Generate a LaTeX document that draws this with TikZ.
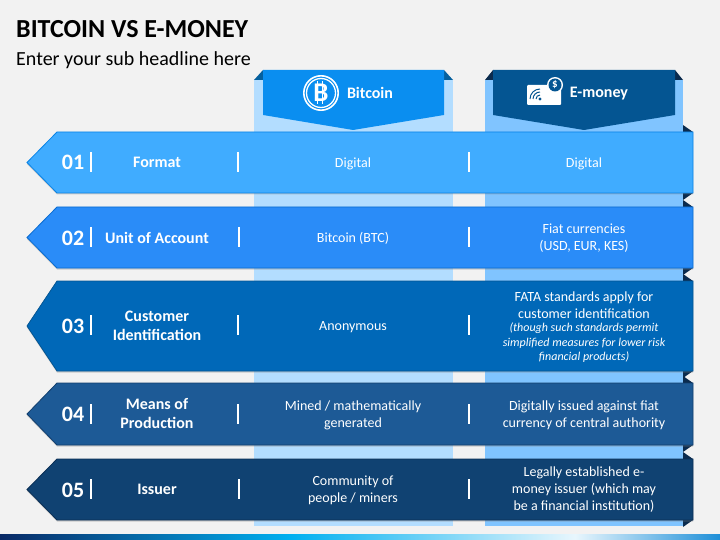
\documentclass[tikz,border=0pt]{standalone}
\usepackage{fontspec}
\setmainfont{Carlito}
\usetikzlibrary{shadows}
\definecolor{pagebg}{HTML}{F2F2F2}
\definecolor{bandA}{HTML}{40ACFF}
\definecolor{bandB}{HTML}{2A8CF8}
\definecolor{bandC}{HTML}{0068B8}
\definecolor{bandD}{HTML}{1D5A96}
\definecolor{bandE}{HTML}{104272}
\definecolor{edgeA}{HTML}{0A84E6}
\definecolor{edgeB}{HTML}{0A6CD0}
\definecolor{edgeC}{HTML}{045592}
\definecolor{edgeD}{HTML}{123F6E}
\definecolor{edgeE}{HTML}{0B2F55}
\definecolor{colA}{HTML}{B3DDFF}
\definecolor{colB}{HTML}{80C4FF}
\definecolor{headA}{HTML}{0A8EF0}
\definecolor{headB}{HTML}{045592}
\definecolor{foldA}{HTML}{05609E}
\definecolor{foldB}{HTML}{0B2B4E}
\definecolor{footA}{HTML}{0A2A66}
\definecolor{footB}{HTML}{00B0F0}
\definecolor{footC}{HTML}{E8F6FD}
\definecolor{footD}{HTML}{1E8FD8}
\tikzset{
  celltext/.style={text=white,align=center,font=\fontsize{14}{17}\selectfont},
  headtext/.style={text=white,align=center,font=\fontsize{16}{19}\selectfont\bfseries},
  numtext/.style={text=white,font=\fontsize{22}{24}\selectfont\bfseries},
  notetext/.style={text=white,align=center,font=\fontsize{12}{14.5}\selectfont\itshape},
  tick/.style={white,line width=1.3pt},
  bandshape/.style={line width=0.8pt,drop shadow={shadow xshift=0pt,shadow yshift=-1.5pt,opacity=0.35}}
}
% one row: top, bottom, fill, edge
\newcommand{\rowband}[4]{
  \fill[foldB] (683,#1-7) -- (693,#1) -- (683,#1) -- cycle;
  \fill[foldB] (683,#2) -- (693,#2) -- (683,#2+7) -- cycle;
  \draw[bandshape,fill=#3,draw=#4] (693,#1) -- (57,#1) -- (27,{(#1+#2)/2}) -- (57,#2) -- (693,#2) -- cycle;
}
\newcommand{\rowticks}[3]{
  \draw[tick] (91,#1-10) -- (91,#1+10);
  \draw[tick] (#2,#1-10) -- (#2,#1+10);
  \draw[tick] (#3,#1-10) -- (#3,#1+10);
}
\begin{document}
\begin{tikzpicture}[x=1pt,y=-1pt]
\useasboundingbox (0,0) rectangle (720,540);
\fill[pagebg] (0,0) rectangle (720,540);
% footer
\shade[left color=footA,right color=footB] (0,534) rectangle (290,540);
\shade[left color=footB,right color=footC] (290,534) rectangle (575,540);
\shade[left color=footC,right color=footD] (575,534) rectangle (720,540);
% title
\node[anchor=west,inner sep=0pt,font=\fontsize{26}{30}\selectfont\bfseries] (title) at (16,29) {BITCOIN VS E-MONEY};
\node[anchor=west,inner sep=0pt,font=\fontsize{20}{24}\selectfont] (subtitle) at (16,60) {Enter your sub headline here};
% columns
\fill[colA] (254,80) rectangle (453,526);
\fill[colB] (485,80) rectangle (683,526);
\fill[foldA] (254,80) -- (263,70) -- (263,80) -- cycle;
\fill[foldA] (453,80) -- (444,70) -- (444,80) -- cycle;
\fill[foldB] (485,80) -- (493,70) -- (493,80) -- cycle;
\fill[foldB] (683,80) -- (675,70) -- (675,80) -- cycle;
\fill[headA] (263,70) -- (444,70) -- (444,115) -- (353,130) -- (263,115) -- cycle;
\fill[headB] (493,70) -- (675,70) -- (675,115) -- (584,130) -- (493,115) -- cycle;
% bands
\rowband{132}{193}{bandA}{edgeA}
\rowband{207}{268}{bandB}{edgeB}
\rowband{281}{371}{bandC}{edgeC}
\rowband{383}{445}{bandD}{edgeD}
\rowband{459}{520}{bandE}{edgeE}
\rowticks{162}{238}{469}
\rowticks{237}{239}{469}
\rowticks{325}{238}{469}
\rowticks{414}{238}{469}
\rowticks{489}{239}{469}
% icons
\draw[white,line width=1.6pt] (321,93) circle (17.2);
\draw[white,line width=1.3pt] (321,93) circle (14.5);
\foreach \bx in {317.5,322.5}{
  \draw[white,line width=1.5pt] (\bx,81.5) -- (\bx,104.5);
}
\node[text=white,font=\fontsize{27}{27}\selectfont\bfseries] (btcicon) at (321,92.5) {B};
\fill[white,rounded corners=1pt] (527,85) rectangle (561,105);
\fill[white] (555,85) circle (8);
\fill[headB] (555,85) circle (6.5);
\node[text=white,font=\fontsize{11}{11}\selectfont\bfseries] (dollar) at (555,84.5) {\$};
\fill[headB] (540,99) circle (1.6);
\foreach \wr in {4,7,10}{
  \draw[headB,line width=1pt] ({540-\wr},99) .. controls ({540-\wr},{99-0.55*\wr}) and ({540-0.55*\wr},{99-\wr}) .. (540,{99-\wr});
}
% heads
\node[headtext] (bitcoin) at (370,93) {Bitcoin};
\node[headtext] (emoney) at (599,93.5) {E-money};
% numbers
\node[numtext] (n1) at (73,162) {01};
\node[numtext] (n2) at (73,238) {02};
\node[numtext] (n3) at (73,326) {03};
\node[numtext] (n4) at (73,414) {04};
\node[numtext] (n5) at (73,490) {05};
% first column
\node[headtext] (c1) at (157,162) {Format};
\node[headtext] (c2) at (157,238) {Unit of Account};
\node[headtext] (c3) at (157,326) {Customer\\Identification};
\node[headtext] (c4) at (157,413) {Means of\\Production};
\node[headtext] (c5) at (157,489) {Issuer};
% bitcoin column
\node[celltext] (b1) at (353,163.5) {Digital};
\node[celltext] (b2) at (353,238) {Bitcoin (BTC)};
\node[celltext] (b3) at (353,327) {Anonymous};
\node[celltext] (b4) at (353,415) {Mined / mathematically\\generated};
\node[celltext] (b5) at (353,490) {Community of\\people / miners};
% e-money column
\node[celltext] (e1) at (584,163.5) {Digital};
\node[celltext] (e2) at (584,238) {Fiat currencies\\(USD, EUR, KES)};
\node[celltext] (e3) at (584,305) {FATA standards apply for\\customer identification};
\node[notetext] (e3n) at (584,343) {(though such standards permit\\simplified measures for lower risk\\financial products)};
\node[celltext] (e4) at (584,415) {Digitally issued against fiat\\currency of central authority};
\node[celltext] (e5) at (584,490) {Legally established e-\\money issuer (which may\\be a financial institution)};
\end{tikzpicture}
\end{document}
